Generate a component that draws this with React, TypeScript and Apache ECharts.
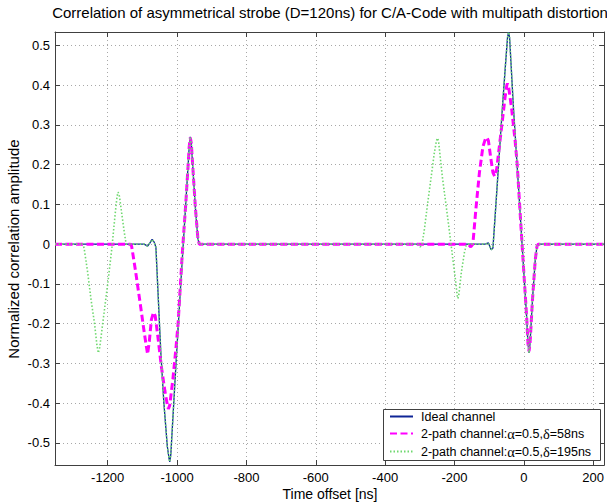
import React, { useEffect, useRef } from "react";
import * as echarts from "echarts";

// ---- data ----
const xTicks = [-1200, -1000, -800, -600, -400, -200, 0, 200];
const yTicks = [-0.5, -0.4, -0.3, -0.2, -0.1, 0, 0.1, 0.2, 0.3, 0.4, 0.5];

const idealT = [
  -1352, -1095, -1085, -1079, -1072, -1066, -1061, -1055, -1047, -1038, -1028, -1023, -1021, -1018,
  -1005, -990, -975, -968, -965, -962, -959, -955, -947, -940, -936,
  -112, -102, -94, -89, -82, -72, -62, -53, -47, -44, -41, -30, -15, 0, 8, 12, 15, 18, 25, 33, 38, 42, 232,
];
const idealV = [
  0, 0, -0.005, 0.002, 0.012, 0.005, -0.008, -0.12, -0.27, -0.4, -0.51, -0.54, -0.548, -0.53,
  -0.33, -0.11, 0.1, 0.2, 0.245, 0.27, 0.255, 0.2, 0.09, 0.015, 0,
  0, 0.003, -0.014, -0.01, 0.08, 0.21, 0.34, 0.45, 0.52, 0.534, 0.52, 0.345, 0.14, -0.07, -0.18, -0.25, -0.274, -0.25, -0.14, -0.04, -0.005, 0, 0,
];

const path58T = [
  -1352, -1135, -1131, -1120, -1107, -1095, -1089, -1085, -1080, -1074, -1068, -1063, -1055, -1045, -1035,
  -1028, -1025, -1021, -1012, -1003, -997, -985, -975, -968, -965, -962, -959, -955, -947, -940, -936,
  -160, -153, -147, -138, -128, -118, -110, -106, -102, -95, -89, -84, -78, -70, -62, -54, -49, -47, -44,
  -35, -25, -19, -10, 0, 8, 12, 15, 18, 25, 33, 38, 42, 232,
];
const path58V = [
  0, 0, -0.005, -0.066, -0.145, -0.22, -0.255, -0.277, -0.245, -0.19, -0.172, -0.18, -0.235, -0.31, -0.37,
  -0.405, -0.415, -0.405, -0.34, -0.26, -0.2, -0.025, 0.1, 0.2, 0.245, 0.268, 0.255, 0.2, 0.09, 0.015, 0,
  0, -0.007, 0, 0.09, 0.18, 0.245, 0.267, 0.268, 0.26, 0.215, 0.18, 0.171, 0.19, 0.25, 0.31, 0.37, 0.4, 0.404, 0.397,
  0.34, 0.26, 0.2, 0.07, -0.07, -0.18, -0.25, -0.27, -0.25, -0.14, -0.04, -0.005, 0, 0,
];

const path195T = [
  -1352, -1278, -1273, -1268, -1258, -1248, -1238, -1231, -1227, -1223, -1213, -1200, -1188, -1178, -1173,
  -1170, -1166, -1160, -1153, -1147,
  -1095, -1085, -1079, -1072, -1066, -1061, -1055, -1047, -1038, -1028, -1023, -1021, -1018,
  -1005, -990, -975, -968, -965, -962, -959, -955, -947, -940, -936,
  -305, -299, -294, -287, -277, -267, -258, -252, -249, -246, -235, -220, -205, -197, -192, -190, -187, -180,
  -171, -166, -162,
  -112, -102, -94, -89, -82, -72, -62, -53, -47, -44, -41, -30, -15, 0, 8, 12, 15, 18, 25, 33, 38, 42, 232,
];
const path195V = [
  0, 0, 0.003, -0.01, -0.07, -0.14, -0.2, -0.255, -0.274, -0.26, -0.19, -0.1, -0.01, 0.08, 0.12,
  0.131, 0.12, 0.08, 0.035, 0,
  0, -0.005, 0.002, 0.012, 0.005, -0.008, -0.12, -0.27, -0.4, -0.51, -0.54, -0.548, -0.53,
  -0.33, -0.11, 0.1, 0.2, 0.245, 0.27, 0.255, 0.2, 0.09, 0.015, 0,
  0, -0.007, -0.003, 0.035, 0.105, 0.17, 0.23, 0.26, 0.267, 0.26, 0.17, 0.07, -0.035, -0.09, -0.13, -0.137, -0.125, -0.07,
  -0.02, -0.003, 0,
  0, 0.003, -0.014, -0.01, 0.08, 0.21, 0.34, 0.45, 0.52, 0.534, 0.52, 0.345, 0.14, -0.07, -0.18, -0.25, -0.274, -0.25, -0.14, -0.04, -0.005, 0, 0,
];

const seriesNames = [
  "Ideal channel",
  "2-path channel:α=0.5,δ=58ns",
  "2-path channel:α=0.5,δ=195ns",
];

const titleText = "Correlation of asymmetrical strobe (D=120ns) for C/A-Code with multipath distortion";
const xName = "Time offset [ns]";
const yName = "Normalized correlation amplitude";

const zip = (t: number[], v: number[]) => t.map((x, i) => [x, v[i]]);

const FONT = "Liberation Sans, Arial, sans-serif";
const AX = "#404040";

export default function App() {
  const ref = useRef<HTMLDivElement>(null);
  useEffect(() => {
    if (!ref.current) return;
    const chart = echarts.init(ref.current, null, { renderer: "svg" });
    const xMin = -1352, xMax = 232, yMin = -0.556, yMax = 0.534;
    const baseX = { type: "value" as const, min: xMin, max: xMax };
    const baseY = { type: "value" as const, min: yMin, max: yMax };
    chart.setOption({
      animation: false,
      backgroundColor: "#ffffff",
      grid: { left: 55, top: 32, right: 2, bottom: 38, containLabel: false },
      xAxis: [
        {
          ...baseX,
          position: "bottom",
          axisLine: { show: true, onZero: false, lineStyle: { color: AX, width: 1 } },
          axisTick: { show: true, inside: true, length: 5, customValues: xTicks, lineStyle: { color: AX } },
          axisLabel: {
            show: true,
            customValues: xTicks,
            margin: 6,
            color: "#000",
            fontSize: 13,
            fontFamily: FONT,
            formatter: (v: number) => String(v),
          },
          splitLine: { show: true, lineStyle: { color: "#a8a8a8", type: [1, 3], width: 1 } },
        },
        {
          ...baseX,
          position: "top",
          axisLine: { show: true, onZero: false, lineStyle: { color: AX, width: 1 } },
          axisTick: { show: true, inside: true, length: 5, customValues: xTicks, lineStyle: { color: AX } },
          axisLabel: { show: false },
          splitLine: { show: false },
        },
      ],
      yAxis: [
        {
          ...baseY,
          position: "left",
          axisLine: { show: true, onZero: false, lineStyle: { color: AX, width: 1 } },
          axisTick: { show: true, inside: true, length: 5, customValues: yTicks, lineStyle: { color: AX } },
          axisLabel: {
            show: true,
            customValues: yTicks,
            margin: 5,
            color: "#000",
            fontSize: 13,
            fontFamily: FONT,
            formatter: (v: number) => String(Math.round(v * 10) / 10),
          },
          splitLine: { show: true, lineStyle: { color: "#a8a8a8", type: [1, 3], width: 1 } },
        },
        {
          ...baseY,
          position: "right",
          axisLine: { show: true, onZero: false, lineStyle: { color: AX, width: 1 } },
          axisTick: { show: true, inside: true, length: 5, customValues: yTicks, lineStyle: { color: AX } },
          axisLabel: { show: false },
          splitLine: { show: false },
        },
      ],
      legend: {
        show: true,
        orient: "vertical",
        left: 389,
        top: 410,
        padding: 0,
        itemWidth: 23,
        itemHeight: 14,
        itemGap: 3,
        z: 200,
        data: seriesNames,
        itemStyle: { opacity: 0 },
        textStyle: {
          color: "#000",
          fontSize: 12.5,
          fontFamily: FONT,
          padding: [0, 0, 0, 3],
          rich: {
            g: { fontFamily: "Liberation Serif, Times New Roman, serif", fontSize: 14.5, color: "#000" },
          },
        },
        formatter: (name: string) => name.replace(/α/g, "{g|α}").replace(/δ/g, "{g|δ}"),
      },
      graphic: [
        {
          type: "rect",
          z: 150,
          shape: { x: 383.5, y: 409.5, width: 217, height: 51 },
          style: { fill: "#ffffff", stroke: AX, lineWidth: 1 },
        },
        {
          type: "text",
          x: 330,
          y: 12,
          style: {
            text: titleText,
            font: `15px ${FONT}`,
            fill: "#000",
            textAlign: "center",
            align: "center",
            textVerticalAlign: "middle",
            verticalAlign: "middle",
          },
        },
        {
          type: "text",
          x: 330,
          y: 494,
          style: {
            text: xName,
            font: `14px ${FONT}`,
            fill: "#000",
            textAlign: "center",
            align: "center",
            textVerticalAlign: "middle",
            verticalAlign: "middle",
          },
        },
        {
          type: "text",
          x: 13,
          y: 249,
          rotation: Math.PI / 2,
          style: {
            text: yName,
            font: `15px ${FONT}`,
            fill: "#000",
            textAlign: "center",
            align: "center",
            textVerticalAlign: "middle",
            verticalAlign: "middle",
          },
        },
      ],
      series: [
        {
          name: seriesNames[0],
          type: "line",
          xAxisIndex: 0,
          yAxisIndex: 0,
          data: zip(idealT, idealV),
          symbol: "none",
          showSymbol: false,
          lineStyle: { color: "#0f2596", width: 1.3 },
          itemStyle: { color: "#0f2596" },
          z: 3,
        },
        {
          name: seriesNames[1],
          type: "line",
          xAxisIndex: 0,
          yAxisIndex: 0,
          data: zip(path58T, path58V),
          symbol: "none",
          showSymbol: false,
          lineStyle: { color: "#ff00ff", width: 3, type: [7, 3.5] },
          itemStyle: { color: "#ff00ff" },
          z: 4,
        },
        {
          name: seriesNames[2],
          type: "line",
          xAxisIndex: 0,
          yAxisIndex: 0,
          data: zip(path195T, path195V),
          symbol: "none",
          showSymbol: false,
          lineStyle: { color: "#6fd86f", width: 1.6, type: [1.5, 2] },
          itemStyle: { color: "#6fd86f" },
          z: 5,
        },
      ],
    });
    return () => chart.dispose();
  }, []);
  return (
    <div
      ref={ref}
      style={{ position: "absolute", left: 0, top: 0, width: 607, height: 503 }}
    />
  );
}
